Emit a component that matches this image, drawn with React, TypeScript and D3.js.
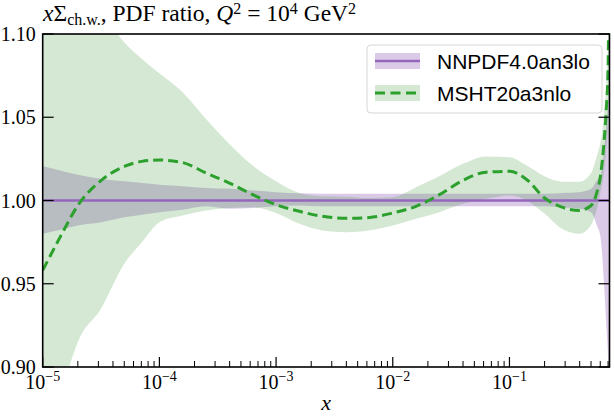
import {useEffect, useRef} from 'react';
import * as d3 from 'd3';

// x grid (log spaced) shared by both PDF sets
const xs = [1e-5, 1.41e-5, 2e-5, 3.16e-5, 5e-5, 7.08e-5, 1e-4, 1.58e-4, 2.51e-4, 3.98e-4, 6.31e-4,
  1e-3, 1.58e-3, 2.51e-3, 3.98e-3, 6.31e-3, 1e-2, 1.58e-2, 2.51e-2, 3.98e-2, 6.31e-2,
  0.1, 0.141, 0.2, 0.282, 0.398, 0.501, 0.562, 0.603, 0.646, 0.676, 0.7, 0.716];

// NNPDF4.0an3lo (reference set, ratio = 1)
const nnpdfCentral = [1, 1, 1, 1, 1, 1, 1, 1, 1, 1, 1, 1, 1, 1, 1, 1, 1, 1, 1, 1, 1, 1, 1, 1, 1, 1, 1, 1, 1, 1, 1, 1, 1];
const nnpdfUpper = [1.0205, 1.018, 1.0155, 1.013, 1.0115, 1.0105, 1.0095, 1.0085, 1.0075, 1.007, 1.006,
  1.005, 1.0043, 1.004, 1.004, 1.004, 1.004, 1.004, 1.004, 1.004, 1.004,
  1.004, 1.004, 1.004, 1.0045, 1.005, 1.007, 1.012, 1.015, 1.03, 1.045, 1.058, 1.07];
const nnpdfLower = [0.98, 0.9825, 0.985, 0.987, 0.99, 0.9915, 0.993, 0.9945, 0.9965, 0.995, 0.9955,
  0.9965, 0.997, 0.9965, 0.9965, 0.9965, 0.9965, 0.9965, 0.9965, 0.9965, 0.9965,
  0.9965, 0.9965, 0.9965, 0.996, 0.995, 0.993, 0.985, 0.978, 0.95, 0.925, 0.905, 0.88];

// MSHT20a3nlo ratio to NNPDF
const mshtCentral = [0.958, 0.978, 0.997, 1.012, 1.0205, 1.0235, 1.0243, 1.0228, 1.0165, 1.0105, 1.0035,
  0.9975, 0.9935, 0.9905, 0.9893, 0.9898, 0.9925, 0.9965, 1.0035, 1.012, 1.017,
  1.0175, 1.0125, 1.0015, 0.996, 0.994, 0.997, 1.005, 1.015, 1.035, 1.055, 1.08, 1.15];
const mshtUpper = [1.19, 1.17, 1.145, 1.115, 1.095, 1.085, 1.0765, 1.065, 1.049, 1.034, 1.021,
  1.0115, 1.0045, 1.0025, 1.0023, 1.0015, 1.002, 1.008, 1.0145, 1.022, 1.0265,
  1.026, 1.021, 1.0145, 1.0113, 1.0113, 1.0165, 1.027, 1.035, 1.052, 1.07, 1.1, 1.17];
const mshtLower = [0.83, 0.88, 0.915, 0.935, 0.962, 0.975, 0.987, 0.991, 0.994, 0.9955, 0.996,
  0.9925, 0.986, 0.982, 0.981, 0.982, 0.985, 0.989, 0.993, 0.998, 1.001,
  1.003, 1.0, 0.992, 0.983, 0.98, 0.9855, 0.995, 1.005, 1.017, 1.03, 1.045, 1.07];

const yTicks = [0.9, 0.95, 1.0, 1.05, 1.1];
const xDecades = [1e-5, 1e-4, 1e-3, 1e-2, 1e-1];
const xExponents = ['\u22125', '\u22124', '\u22123', '\u22122', '\u22121'];
const legendLabels = ['NNPDF4.0an3lo', 'MSHT20a3nlo'];

const PURPLE = '#9467bd';
const GREEN = '#2ca02c';
const GREEN_FILL = '#2f8a2a';
const serif = '"Liberation Serif", "DejaVu Serif", serif';
const sans = '"Liberation Sans", Arial, sans-serif';

const RatioChart = ({width, height}) => {
  const svgRef = useRef();

  useEffect(() => {
    const margin = {top: 34, right: 4.5, bottom: 49, left: 42.7};
    const innerWidth = width - margin.left - margin.right;
    const innerHeight = height - margin.top - margin.bottom;

    const svg = d3.select(svgRef.current)
      .attr('width', width)
      .attr('height', height);
    svg.selectAll('*').remove();

    const xScale = d3.scaleLog().domain([1e-5, 0.72]).range([0, innerWidth]);
    const yScale = d3.scaleLinear().domain([0.9, 1.1]).range([innerHeight, 0]);

    svg.append('defs').append('clipPath').attr('id', 'plot-clip')
      .append('rect').attr('width', innerWidth).attr('height', innerHeight);

    const g = svg.append('g').attr('transform', `translate(${margin.left}, ${margin.top})`);
    const plot = g.append('g').attr('clip-path', 'url(#plot-clip)');

    const band = (lo, hi) => d3.area()
      .x((d, i) => xScale(xs[i]))
      .y0((d, i) => yScale(lo[i]))
      .y1((d, i) => yScale(hi[i]))
      .curve(d3.curveMonotoneX)(xs);

    const line = vals => d3.line()
      .x((d, i) => xScale(xs[i]))
      .y((d, i) => yScale(vals[i]))
      .curve(d3.curveMonotoneX)(xs);

    // uncertainty bands
    plot.append('path').attr('d', band(nnpdfLower, nnpdfUpper))
      .attr('fill', PURPLE).attr('fill-opacity', 0.35);
    plot.append('path').attr('d', band(mshtLower, mshtUpper))
      .attr('fill', GREEN_FILL).attr('fill-opacity', 0.2);

    // central values
    plot.append('path').attr('d', line(nnpdfCentral))
      .attr('fill', 'none').attr('stroke', PURPLE).attr('stroke-width', 2.5);
    plot.append('path').attr('d', line(mshtCentral))
      .attr('fill', 'none').attr('stroke', GREEN).attr('stroke-width', 3)
      .attr('stroke-dasharray', '10,5');

    // frame
    g.append('rect').attr('width', innerWidth).attr('height', innerHeight)
      .attr('fill', 'none').attr('stroke', 'black').attr('stroke-width', 1.6);

    // x ticks, pointing inwards
    const minor = [];
    xDecades.forEach(d => {
      for (let k = 2; k <= 9; k++) if (d * k <= 0.72) minor.push(d * k);
    });
    g.selectAll('.xmajor').data(xDecades).enter().append('line')
      .attr('x1', d => xScale(d)).attr('x2', d => xScale(d))
      .attr('y1', innerHeight).attr('y2', innerHeight - 10)
      .attr('stroke', 'black').attr('stroke-width', 1.2);
    g.selectAll('.xminor').data(minor).enter().append('line')
      .attr('x1', d => xScale(d)).attr('x2', d => xScale(d))
      .attr('y1', innerHeight).attr('y2', innerHeight - 6)
      .attr('stroke', 'black').attr('stroke-width', 1);

    const xLabels = g.selectAll('.xlabel').data(xDecades).enter().append('text')
      .attr('x', d => xScale(d)).attr('y', innerHeight + 22)
      .attr('text-anchor', 'middle')
      .style('font-family', serif).style('font-size', '20px');
    xLabels.append('tspan').text('10');
    xLabels.append('tspan').attr('dy', -8).style('font-size', '14px')
      .text((d, i) => xExponents[i]);

    // y ticks on both sides
    yTicks.forEach(t => {
      g.append('line').attr('x1', 0).attr('x2', 11)
        .attr('y1', yScale(t)).attr('y2', yScale(t))
        .attr('stroke', 'black').attr('stroke-width', 1.2);
      g.append('line').attr('x1', innerWidth - 11).attr('x2', innerWidth)
        .attr('y1', yScale(t)).attr('y2', yScale(t))
        .attr('stroke', 'black').attr('stroke-width', 1.2);
    });
    g.selectAll('.ylabel').data(yTicks).enter().append('text')
      .attr('x', -7).attr('y', d => yScale(d) + 7)
      .attr('text-anchor', 'end')
      .style('font-family', serif).style('font-size', '20px')
      .text(d => d.toFixed(2));

    // axis label
    svg.append('text')
      .attr('x', margin.left + innerWidth / 2).attr('y', height - 6)
      .attr('text-anchor', 'middle')
      .style('font-family', serif).style('font-size', '22px').style('font-style', 'italic')
      .text('x');

    // title
    const title = svg.append('text').attr('x', 43).attr('y', 21)
      .style('font-family', serif).style('font-size', '23.5px');
    title.append('tspan').style('font-style', 'italic').text('x');
    title.append('tspan').text('\u03a3');
    title.append('tspan').attr('dy', 4).style('font-size', '16px').text('ch.w.');
    title.append('tspan').attr('dy', -4).text(', PDF ratio, ');
    title.append('tspan').style('font-style', 'italic').text('Q');
    title.append('tspan').attr('dy', -7).style('font-size', '16px').text('2');
    title.append('tspan').attr('dy', 7).text(' = 10');
    title.append('tspan').attr('dy', -7).style('font-size', '16px').text('4');
    title.append('tspan').attr('dy', 7).text(' GeV');
    title.append('tspan').attr('dy', -7).style('font-size', '16px').text('2');

    // legend
    const legend = svg.append('g').attr('transform', 'translate(367, 45)');
    legend.append('rect').attr('width', 235).attr('height', 68).attr('rx', 4)
      .attr('fill', 'white').attr('fill-opacity', 0.8)
      .attr('stroke', '#d6d6d6').attr('stroke-width', 1);
    const entries = [
      {color: PURPLE, fill: PURPLE, opacity: 0.35, dash: null, width: 2.5},
      {color: GREEN, fill: GREEN_FILL, opacity: 0.2, dash: '10,5.5', width: 3},
    ];
    entries.forEach((e, i) => {
      const row = legend.append('g').attr('transform', `translate(8, ${8 + i * 32})`);
      row.append('rect').attr('width', 45).attr('height', 16)
        .attr('fill', e.fill).attr('fill-opacity', e.opacity);
      row.append('line').attr('x1', 0).attr('x2', 45).attr('y1', 8).attr('y2', 8)
        .attr('stroke', e.color).attr('stroke-width', e.width)
        .attr('stroke-dasharray', e.dash);
      row.append('text').attr('x', 62).attr('y', 15.5)
        .style('font-family', sans).style('font-size', '21px')
        .text(legendLabels[i]);
    });
  }, [width, height]);

  return <svg ref={svgRef} style={{position: 'absolute', left: 0, top: 0, background: 'white'}}/>;
};

export default function App() {
  return <RatioChart width={614} height={416}/>;
}
